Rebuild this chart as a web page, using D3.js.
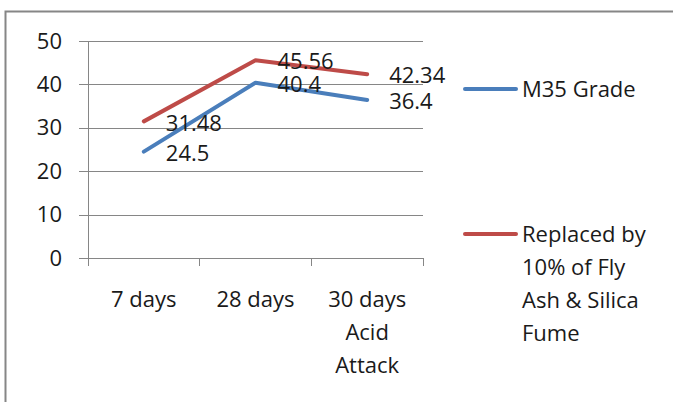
<!DOCTYPE html>
<html>
<head>
<meta charset="utf-8">
<script src="https://cdn.jsdelivr.net/npm/d3@7"></script>
<style>
  html, body { margin: 0; padding: 0; background: #fff; }
  svg { display: block; }
  text { font-family: "Open Sans", Lato, sans-serif; fill: #1a1a1a; }
</style>
</head>
<body>
<svg id="chart" width="673" height="402"></svg>
<script>
// Compressive strength over curing / exposure stages
const categories = [["7 days"], ["28 days"], ["30 days", "Acid", "Attack"]];
const m35Grade = [24.5, 40.4, 36.4];
const replaced = [31.48, 45.56, 42.34];
const seriesNames = [["M35 Grade"], ["Replaced by", "10% of Fly", "Ash & Silica", "Fume"]];
const yTicks = [0, 10, 20, 30, 40, 50];

const series = [
  { name: seriesNames[0], values: m35Grade, color: "#4a7ebb" },
  { name: seriesNames[1], values: replaced, color: "#be4b48" }
];

const svg = d3.select("#chart");
const fontSize = 22;
const lineGap = 33;

// Outer chart frame (extends past right and bottom edges)
svg.append("rect")
  .attr("x", 5.5).attr("y", 11.5)
  .attr("width", 700).attr("height", 420)
  .attr("fill", "none").attr("stroke", "#868686").attr("stroke-width", 2);

const plot = { left: 88, right: 423, top: 41, bottom: 258 };

const x = d3.scaleBand()
  .domain(d3.range(categories.length))
  .range([plot.left, plot.right]);

const y = d3.scaleLinear().domain([0, 50]).range([plot.bottom, plot.top]);

// Horizontal gridlines with left tick marks and labels
const yAxis = d3.axisLeft(y).tickValues(yTicks).tickSize(plot.right - plot.left + 9)
  .tickFormat(d3.format("d"));
const gy = svg.append("g").attr("transform", `translate(${plot.right},0)`).call(yAxis);
gy.select(".domain").remove();
gy.selectAll(".tick line").attr("stroke", "#868686").attr("shape-rendering", "crispEdges");
gy.selectAll(".tick text").attr("font-size", fontSize).attr("fill", "#1a1a1a")
  .attr("font-family", "'Open Sans', sans-serif").attr("x", -(plot.right - 62));

// Vertical axis line
svg.append("line")
  .attr("x1", plot.left).attr("x2", plot.left)
  .attr("y1", plot.top).attr("y2", plot.bottom + 8)
  .attr("stroke", "#868686").attr("shape-rendering", "crispEdges");

// Category boundary ticks on the x axis
const bounds = d3.range(categories.length + 1).map(i => plot.left + i * x.bandwidth());
svg.append("g").selectAll("line").data(bounds).join("line")
  .attr("x1", d => d).attr("x2", d => d)
  .attr("y1", plot.bottom).attr("y2", plot.bottom + 8)
  .attr("stroke", "#868686").attr("shape-rendering", "crispEdges");

// Category labels
const cx = i => x(i) + x.bandwidth() / 2;
const catG = svg.append("g");
categories.forEach((lines, i) => {
  lines.forEach((t, j) => {
    catG.append("text")
      .attr("x", cx(i)).attr("y", 299 + j * lineGap)
      .attr("dy", "0.35em").attr("text-anchor", "middle")
      .attr("font-size", fontSize).text(t);
  });
});

// Series lines
const line = d3.line().x((d, i) => cx(i)).y(d => y(d));
series.forEach(s => {
  svg.append("path")
    .datum(s.values)
    .attr("d", line)
    .attr("fill", "none")
    .attr("stroke", s.color)
    .attr("stroke-width", 4)
    .attr("stroke-linejoin", "round")
    .attr("stroke-linecap", "round");
});

// Value labels to the right of each point
series.forEach(s => {
  svg.append("g").selectAll("text").data(s.values).join("text")
    .attr("x", (d, i) => cx(i) + 22)
    .attr("y", d => y(d) + 1.5)
    .attr("dy", "0.35em")
    .attr("font-size", fontSize)
    .text(d => d);
});

// Legend
const legendY = [89, 234];
series.forEach((s, k) => {
  const ly = legendY[k];
  svg.append("line")
    .attr("x1", 465).attr("x2", 516)
    .attr("y1", ly).attr("y2", ly)
    .attr("stroke", s.color).attr("stroke-width", 4).attr("stroke-linecap", "round");
  s.name.forEach((t, j) => {
    svg.append("text")
      .attr("x", 522).attr("y", ly + j * lineGap)
      .attr("dy", "0.35em")
      .attr("font-size", fontSize).text(t);
  });
});
</script>
</body>
</html>
